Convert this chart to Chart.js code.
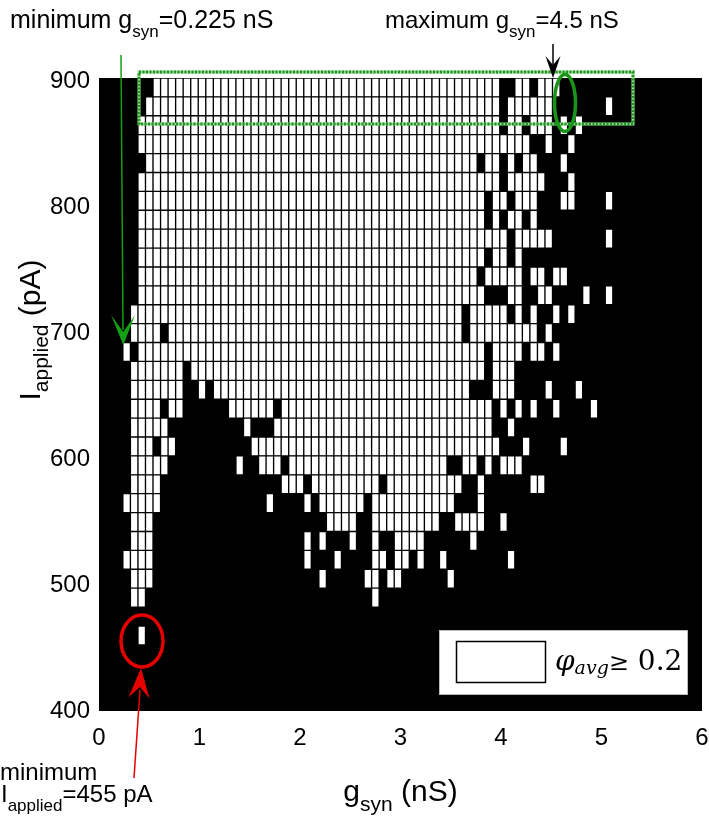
<!DOCTYPE html>
<html><head><meta charset="utf-8">
<script src="https://cdn.jsdelivr.net/npm/chart.js@4.4.1/dist/chart.umd.min.js"></script>
<style>html,body{margin:0;padding:0;background:#fff;}</style>
</head><body>
<canvas id="c" width="709" height="821"></canvas>
<script>
// ---- data ----
const gSynCenters = [0.05,0.125,0.2,0.275,0.35,0.425,0.5,0.575,0.65,0.725,0.8,0.875,0.95,1.025,1.1,1.175,1.25,1.325,1.4,1.475,1.55,1.625,1.7,1.775,1.85,1.925,2.0,2.075,2.15,2.225,2.3,2.375,2.45,2.525,2.6,2.675,2.75,2.825,2.9,2.975,3.05,3.125,3.2,3.275,3.35,3.425,3.5,3.575,3.65,3.725,3.8,3.875,3.95,4.025,4.1,4.175,4.25,4.325,4.4,4.475,4.55,4.625,4.7,4.775,4.85,4.925,5.0,5.075,5.15,5.225];
const iAppliedCenters = [895,880,865,850,835,820,805,790,775,760,745,730,715,700,685,670,655,640,625,610,595,580,565,550,535,520,505,490,475,460];
// white cells (phi_avg >= 0.2), per row of iAppliedCenters, as runs of column indices into gSynCenters
const whiteRuns = [
 [[7,52],[55,56],[58,60]],
 [[6,52],[54,59],[67,67]],
 [[5,52],[54,55],[57,59],[61,61],[63,63]],
 [[5,56],[59,59],[62,62]],
 [[6,49],[51,52],[54,54],[56,57],[61,61]],
 [[5,52],[54,58],[62,62]],
 [[5,50],[52,53],[55,57],[61,62],[67,67]],
 [[5,50],[52,52],[54,55],[57,57]],
 [[5,53],[55,59],[67,67]],
 [[5,50],[52,53],[55,55]],
 [[5,49],[51,55],[57,58],[60,61]],
 [[5,50],[54,55],[58,59],[64,64],[67,67]],
 [[4,47],[49,53],[55,55],[57,57],[60,60],[62,62]],
 [[4,7],[9,47],[49,57],[59,59]],
 [[3,3],[5,50],[52,55],[57,58],[60,60]],
 [[4,10],[12,50],[52,54]],
 [[4,10],[13,13],[15,48],[52,54],[59,59],[63,63]],
 [[4,7],[9,10],[17,22],[24,51],[53,53],[55,55],[57,57],[60,60],[65,65]],
 [[4,8],[19,19],[23,51],[54,54]],
 [[4,6],[8,9],[20,52],[56,56],[61,61]],
 [[4,8],[18,18],[21,23],[25,45],[48,49],[51,51],[53,55]],
 [[4,7],[24,26],[28,36],[38,47],[50,50],[57,58]],
 [[3,7],[22,22],[27,27],[29,34],[36,46],[50,50]],
 [[4,6],[30,33],[36,44],[47,50],[53,53]],
 [[4,6],[27,27],[29,29],[33,33],[36,36],[39,42],[49,49]],
 [[3,6],[27,27],[31,31],[36,37],[39,40],[42,42],[45,45],[54,54]],
 [[4,6],[29,29],[35,36],[38,39],[46,46]],
 [[4,5],[36,36]],
 [],
 [[5,5]]
];
const xTickValues = [0,1,2,3,4,5,6];
const yTickValues = [400,500,600,700,800,900];
const legendLabel = 'φavg≥ 0.2';

// ---- build cells ----
const rowStep = Math.abs(iAppliedCenters[0]-iAppliedCenters[1]);
const cells = [];
whiteRuns.forEach((runs, r) => {
  runs.forEach(([a,b]) => {
    for (let c = a; c <= b; c++) {
      cells.push({x: gSynCenters[c], y: [iAppliedCenters[r]-rowStep/2, iAppliedCenters[r]+rowStep/2]});
    }
  });
});

const SANS = "'Liberation Sans', Arial, Helvetica, sans-serif";

function drawParts(ctx, x, y, parts) {
  let cx = x;
  parts.forEach(p => {
    ctx.font = p.font;
    ctx.fillText(p.t, cx, y + (p.dy||0));
    cx += ctx.measureText(p.t).width;
  });
  return cx - x;
}
function partsWidth(ctx, parts){ let w=0; parts.forEach(p=>{ctx.font=p.font; w+=ctx.measureText(p.t).width;}); return w; }

function arrowHead(ctx, tipX, tipY, dirX, dirY, len, half, notch) {
  const L = Math.hypot(dirX, dirY); const ux = dirX/L, uy = dirY/L; const px = -uy, py = ux;
  const bx = tipX - ux*len, by = tipY - uy*len;
  const nx = tipX - ux*(len-notch), ny = tipY - uy*(len-notch);
  ctx.beginPath();
  ctx.moveTo(tipX, tipY);
  ctx.lineTo(bx + px*half, by + py*half);
  ctx.lineTo(nx, ny);
  ctx.lineTo(bx - px*half, by - py*half);
  ctx.closePath();
  ctx.fill();
}

const bgPlugin = {
  id: 'bg',
  beforeDatasetsDraw(chart) {
    const {ctx, chartArea:a} = chart;
    ctx.save(); ctx.fillStyle = '#000'; ctx.fillRect(a.left, a.top, a.right-a.left, a.bottom-a.top); ctx.restore();
  }
};

const annPlugin = {
  id: 'ann',
  afterDraw(chart) {
    const {ctx, chartArea:a} = chart;
    ctx.save();
    ctx.fillStyle = '#000'; ctx.textBaseline = 'alphabetic';
    const big = '24px ' + SANS, sub = '17px ' + SANS;
    // top annotations
    drawParts(ctx, 10, 28, [{t:'minimum g',font:'25px '+SANS},{t:'syn',font:'17px '+SANS,dy:9},{t:'=0.225 nS',font:'25px '+SANS}]);
    drawParts(ctx, 385, 28, [{t:'maximum g',font:big},{t:'syn',font:sub,dy:9},{t:'=4.5 nS',font:big}]);
    // axis titles
    const tf = '30px ' + SANS, ts = '21px ' + SANS;
    const xParts = [{t:'g',font:tf},{t:'syn',font:ts,dy:10},{t:' (nS)',font:tf}];
    const xw = partsWidth(ctx, xParts);
    drawParts(ctx, (a.left+a.right)/2 - xw/2, 801, xParts);
    const yParts = [{t:'I',font:tf},{t:'applied',font:ts,dy:8},{t:' (pA)',font:tf}];
    const yw = partsWidth(ctx, yParts);
    ctx.save(); ctx.translate(40, 330); ctx.rotate(-Math.PI/2);
    drawParts(ctx, -yw/2, 0, yParts); ctx.restore();
    // bottom-left annotation
    drawParts(ctx, 0, 780, [{t:'minimum',font:big}]);
    drawParts(ctx, 1, 802, [{t:'I',font:big},{t:'applied',font:sub,dy:9},{t:'=455 pA',font:big}]);

    // green dotted rectangle (top band)
    ctx.lineWidth = 3;
    ctx.strokeStyle = 'rgb(150,215,150)';
    ctx.strokeRect(139, 72, 494, 52);
    ctx.strokeStyle = 'rgb(30,150,30)'; ctx.setLineDash([2,1.5]);
    ctx.strokeRect(139, 72, 494, 52);
    ctx.setLineDash([]);
    // green ellipse
    ctx.strokeStyle = 'rgb(25,150,25)'; ctx.lineWidth = 3.5;
    ctx.beginPath(); ctx.ellipse(565, 103, 10.5, 28.5, 0, 0, Math.PI*2); ctx.stroke();
    // green arrow
    ctx.strokeStyle = 'rgb(20,160,20)'; ctx.fillStyle = 'rgb(20,160,20)'; ctx.lineWidth = 1.5;
    ctx.beginPath(); ctx.moveTo(121, 55); ctx.lineTo(123, 330); ctx.stroke();
    arrowHead(ctx, 123.3, 345, 2.3, 290, 30, 12, 17);
    // black arrow
    ctx.strokeStyle = '#000'; ctx.fillStyle = '#000'; ctx.lineWidth = 1.5;
    ctx.beginPath(); ctx.moveTo(553, 44); ctx.lineTo(553, 66); ctx.stroke();
    arrowHead(ctx, 553, 78, 0, 1, 22, 7.5, 9);
    // red ellipse
    ctx.strokeStyle = 'rgb(230,0,0)'; ctx.fillStyle = 'rgb(230,0,0)'; ctx.lineWidth = 3.5;
    ctx.beginPath(); ctx.ellipse(142, 641, 21, 26, 0, 0, Math.PI*2); ctx.stroke();
    // red arrow
    ctx.lineWidth = 1.5;
    ctx.beginPath(); ctx.moveTo(134, 778); ctx.lineTo(140, 690); ctx.stroke();
    arrowHead(ctx, 141, 668, 7, -110, 30, 10.5, 11);

    // legend
    ctx.fillStyle = '#fff'; ctx.fillRect(439, 630, 248, 64);
    ctx.strokeStyle = '#bbb'; ctx.lineWidth = 1; ctx.strokeRect(439.5, 630.5, 248, 64);
    ctx.fillStyle = '#fff'; ctx.fillRect(456, 641, 90, 42);
    ctx.strokeStyle = '#000'; ctx.lineWidth = 1.5; ctx.strokeRect(456.5, 641.5, 89, 41);
    ctx.fillStyle = '#000';
    const serif = "'DejaVu Serif', 'Liberation Serif', serif";
    drawParts(ctx, 555, 670, [
      {t:'φ', font:'italic 28px '+serif},
      {t:'avg', font:'italic 19px '+serif, dy:4},
      {t:'≥', font:'24px '+serif},
      {t:' 0.2', font:'28px '+serif}
    ]);
    ctx.restore();
  }
};

new Chart(document.getElementById('c'), {
  type: 'bar',
  data: { datasets: [{
    label: legendLabel,
    data: cells,
    backgroundColor: '#fff',
    borderColor: '#000',
    borderWidth: 1,
    borderSkipped: false,
    categoryPercentage: 1,
    barPercentage: 1
  }]},
  options: {
    responsive: false,
    animation: false,
    events: [],
    devicePixelRatio: 1,
    layout: { padding: { left: 0, right: 7, top: 78, bottom: 0 } },
    plugins: { legend: { display: false }, tooltip: { enabled: false } },
    scales: {
      x: {
        type: 'linear', min: 0, max: 6, offset: false,
        afterBuildTicks: s => { s.ticks = xTickValues.map(v => ({value: v})); },
        afterFit: s => { s.height = 110; s.paddingLeft = 0; s.paddingRight = 0; },
        grid: { display: false, drawTicks: false },
        border: { display: false },
        ticks: { font: { family: SANS, size: 24 }, color: '#000', padding: 13, maxRotation: 0, autoSkip: false }
      },
      y: {
        type: 'linear', min: 400, max: 902.5,
        afterBuildTicks: s => { s.ticks = yTickValues.map(v => ({value: v})); },
        afterFit: s => { s.width = 99; s.paddingTop = 0; s.paddingBottom = 0; },
        grid: { display: false, drawTicks: false },
        border: { display: false },
        ticks: { font: { family: SANS, size: 24 }, color: '#000', padding: 9, autoSkip: false }
      }
    }
  },
  plugins: [bgPlugin, annPlugin]
});
</script>
</body></html>
